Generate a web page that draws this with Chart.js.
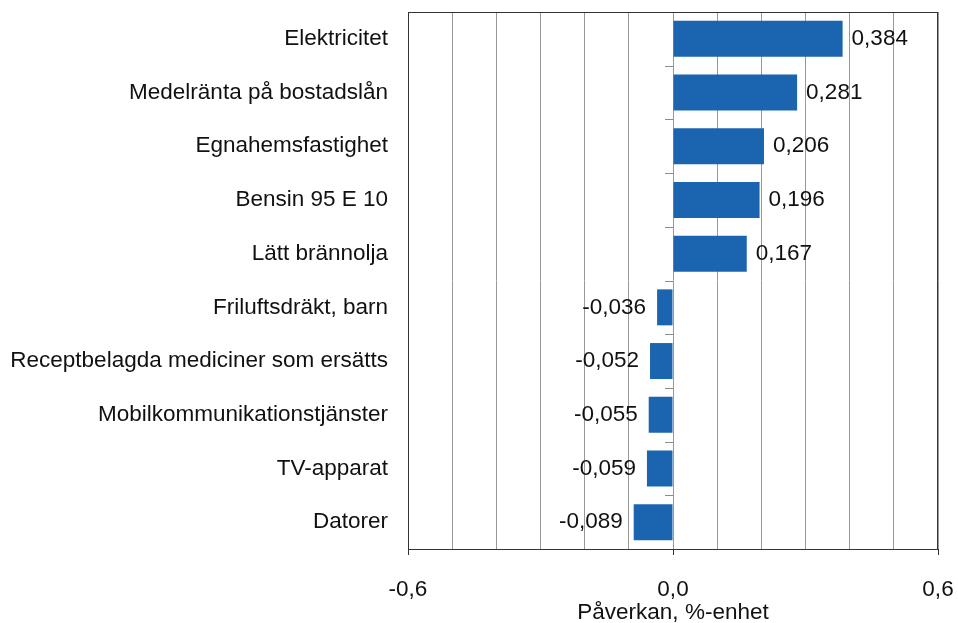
<!DOCTYPE html>
<html>
<head>
<meta charset="utf-8">
<script src="https://cdn.jsdelivr.net/npm/chart.js@4"></script>
<style>
  html, body { margin: 0; padding: 0; background: #fff; }
  #wrap { width: 958px; height: 623px; }
</style>
</head>
<body>
<div id="wrap"><canvas id="chart" width="958" height="623"></canvas></div>
<script>
// Data
const categories = [
  "Elektricitet",
  "Medelränta på bostadslån",
  "Egnahemsfastighet",
  "Bensin 95 E 10",
  "Lätt brännolja",
  "Friluftsdräkt, barn",
  "Receptbelagda mediciner som ersätts",
  "Mobilkommunikationstjänster",
  "TV-apparat",
  "Datorer"
];
const values = [0.384, 0.281, 0.206, 0.196, 0.167, -0.036, -0.052, -0.055, -0.059, -0.089];
const labeledTicks = [-0.6, 0, 0.6];
const axisTitle = "Påverkan, %-enhet";

const FONT = "'Liberation Sans', Arial, sans-serif";
const SIZE = 22.5;
const TEXT = "#111";

const fmt = v => v.toFixed(3).replace(".", ",");
const isLabeled = v => labeledTicks.some(t => Math.abs(t - v) < 1e-9);

// frame, zero-line ticks and value labels
const extras = {
  id: "extras",
  afterDatasetsDraw(chart) {
    const ctx = chart.ctx;
    const area = chart.chartArea;
    const x = chart.scales.x;
    const y = chart.scales.y;
    const zero = x.getPixelForValue(0);

    ctx.save();
    ctx.strokeStyle = "#8c8c8c";
    ctx.lineWidth = 1;
    for (let i = 0; i <= categories.length; i++) {
      const py = Math.round(y.getPixelForValue(i - 0.5)) + 0.5;
      ctx.beginPath();
      ctx.moveTo(zero - 8, py);
      ctx.lineTo(zero, py);
      ctx.stroke();
    }

    ctx.strokeStyle = "#333";
    ctx.strokeRect(area.left + 0.5, area.top + 0.5, area.right - area.left - 1, area.bottom - area.top);

    ctx.fillStyle = TEXT;
    ctx.font = SIZE + "px " + FONT;
    ctx.textBaseline = "middle";
    chart.getDatasetMeta(0).data.forEach((bar, i) => {
      const v = values[i];
      if (v >= 0) {
        ctx.textAlign = "left";
        ctx.fillText(fmt(v), bar.x + 9, bar.y);
      } else {
        ctx.textAlign = "right";
        ctx.fillText(fmt(v), bar.x - 11, bar.y);
      }
    });
    ctx.restore();
  }
};

new Chart(document.getElementById("chart"), {
  type: "bar",
  data: {
    labels: categories,
    datasets: [{
      data: values,
      backgroundColor: "#1b64b0",
      borderWidth: 0,
      barPercentage: 0.67,
      categoryPercentage: 1
    }]
  },
  options: {
    indexAxis: "y",
    responsive: false,
    animation: false,
    layout: { padding: { top: 12, right: 20, left: 0, bottom: 0 } },
    plugins: {
      legend: { display: false },
      tooltip: { enabled: false }
    },
    scales: {
      x: {
        min: -0.6,
        max: 0.6,
        afterFit: s => { s.height = 74; s.paddingLeft = 0; s.paddingRight = 0; },
        ticks: {
          stepSize: 0.1,
          autoSkip: false,
          maxRotation: 0,
          padding: 21,
          color: TEXT,
          font: { family: FONT, size: SIZE },
          callback: v => isLabeled(v) ? v.toFixed(1).replace(".", ",") : ""
        },
        grid: {
          color: "#999",
          lineWidth: 1,
          tickLength: 6,
          tickColor: c => (c.tick && isLabeled(c.tick.value)) ? "#333" : "rgba(0,0,0,0)"
        },
        border: { display: true, color: "#333" },
        title: {
          display: true,
          text: axisTitle,
          color: TEXT,
          font: { family: FONT, size: SIZE },
          padding: { top: 0, bottom: -3 }
        }
      },
      y: {
        afterFit: s => { s.width = 408; s.paddingTop = 0; s.paddingBottom = 0; },
        ticks: {
          padding: 20,
          color: TEXT,
          font: { family: FONT, size: SIZE }
        },
        grid: { display: false, drawTicks: false },
        border: { display: true, color: "#333" }
      }
    }
  },
  plugins: [extras]
});
</script>
</body>
</html>
